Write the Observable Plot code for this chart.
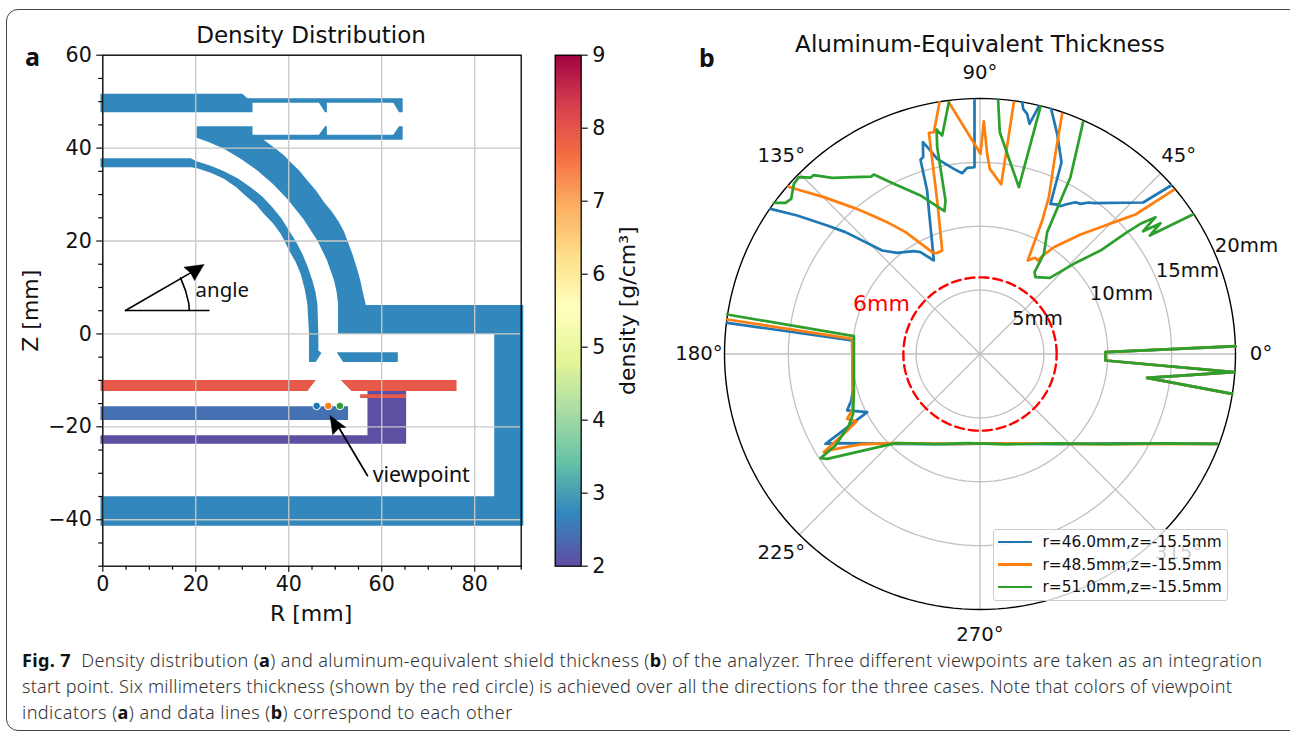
<!DOCTYPE html>
<html><head><meta charset="utf-8">
<script src="https://cdn.jsdelivr.net/npm/d3@7"></script>
<script src="https://cdn.jsdelivr.net/npm/@observablehq/plot@0.6"></script>
<style>
html,body{margin:0;padding:0;background:#fff;width:1290px;height:731px;overflow:hidden}
#page{position:relative;width:1290px;height:731px;overflow:hidden}
#card{position:absolute;left:6px;top:9px;width:1296px;height:722px;border:1px solid #444;border-radius:12px;box-sizing:border-box}
.cap{position:absolute;left:22px;white-space:nowrap;font-family:"Noto Sans";font-weight:300;font-size:18.1px;color:#333;line-height:20px}
.cap b{color:#111;font-weight:700}
.letter{position:absolute;font-family:"Noto Sans";font-weight:700;font-size:25px;color:#111;line-height:28px}
#legend{position:absolute;left:993px;top:529px;width:235px;height:72px;box-sizing:border-box;background:rgba(255,255,255,.8);border:1.3px solid #ccc;border-radius:3px;font-family:"DejaVu Sans";font-size:15.4px;color:#111}
#legend div{position:absolute;left:48.5px;white-space:nowrap;line-height:18px}
#legend i{position:absolute;left:4px;width:34px;height:2.6px}
</style></head><body><div id="page"><div id="card"></div></div>
<script>
// density colour map stops (g/cm3)
const densityStops = [2,2.7,3.4,4.1,4.8,5.5,6.2,6.9,7.6,8.3,9];
const densityColors = ["#5e4fa2","#3288bd","#66c2a5","#abdda4","#e6f598","#ffffbf","#fee08b","#fdae61","#f46d43","#d53e4f","#9e0142"];

// geometry of the analyzer, [R mm, Z mm]
const topPipe = [[-0.5,51.7],[30,51.7],[31.1,50.75],[64.5,50.75],[64.5,47.74],[63.7,47.74],[62.5,49.75],[48.2,49.75],[48.2,47.74],[47.8,47.74],[46.5,49.75],[32.2,49.75],[32.2,47.74],[-0.5,47.74]];
const outerShell = [[20.2,44.7],[32.2,44.7],[32.2,42.86],[46.5,42.86],[47.8,44.7],[48.2,44.7],[48.2,42.86],[62.5,42.86],[63.7,44.7],[64.5,44.7],[64.5,41.8],[34.6,41.8],[37.2,39.84],[38.9,38.5],[40.4,36.97],[42.3,35.1],[44,33.02],[45.9,30.8],[47.6,28.36],[49.3,26.3],[50.8,24.05],[51.85,22.1],[52.6,20.1],[53.8,16.9],[54.8,13.64],[55.4,11.5],[55.85,9.33],[56.57,6.25],[90.45,6.25],[90.45,-41.28],[-0.5,-41.28],[-0.5,-34.96],[84.2,-34.96],[84.2,0],[50.6,0],[50.6,6.46],[50.3,9],[49.75,11.49],[48.2,15.9],[46.16,20.1],[43.1,24.8],[39.7,29.07],[36.6,32.3],[33.24,35.18],[29.8,37.6],[26.06,39.84],[23,41.2],[20.17,42.21]];
const innerShell = [[-0.5,37.83],[18.88,37.83],[20.17,37.19],[23.2,36.2],[26.06,35.03],[29,33.5],[31.8,31.59],[34.3,29.6],[36.47,27.28],[38.4,24.9],[40.06,22.25],[41.6,19.8],[42.93,17.23],[44.1,14.4],[45.08,11.49],[45.75,9],[46.16,6.46],[46.37,0],[46.37,-3.59],[47.02,-4.09],[45.8,-6.03],[44.36,-6.03],[44.36,0],[44,6.46],[43.4,9.8],[42.57,12.92],[41.5,15.5],[40.06,17.95],[39.2,19.8],[38.26,21.54],[36.6,23.8],[34.67,25.84],[33,27.8],[31.08,29.43],[28.7,31.6],[26.06,33.38],[23.2,34.7],[20.32,35.68],[18.88,35.89],[-0.5,35.89]];
const sideRing = [[50.32,-3.95],[63.46,-3.95],[63.46,-6.03],[51.69,-6.03]];
const steelLeft = [[-0.5,-9.91],[45.8,-9.91],[44,-12.28],[-0.5,-12.28]];
const steelRight = [[51.18,-9.91],[76.1,-9.91],[76.1,-12.28],[53.48,-12.28]];
const lowPlate = [[-0.5,-21.82],[56.93,-21.82],[56.93,-12.28],[65.25,-12.28],[65.25,-23.62],[-0.5,-23.62]];
const steelStrip = [[55.35,-13],[65.25,-13],[65.25,-13.78],[55.35,-13.78]];
const midPlate = [[-0.5,-15.58],[52.76,-15.58],[52.76,-18.52],[-0.5,-18.52]];
const parts = [
  {pts:topPipe,density:2.7},{pts:outerShell,density:2.7},{pts:innerShell,density:2.7},{pts:sideRing,density:2.7},
  {pts:lowPlate,density:2.0},{pts:steelLeft,density:7.9},{pts:steelRight,density:7.9},{pts:steelStrip,density:7.9},{pts:midPlate,density:2.4}
];

// viewpoints
const viewR = [46,48.5,51];
const viewZ = [-15.5,-15.5,-15.5];
const viewColors = ["#1f77b4","#ff7f0e","#2ca02c"];
const viewNames = ["r=46.0mm,z=-15.5mm","r=48.5mm,z=-15.5mm","r=51.0mm,z=-15.5mm"];

// aluminum-equivalent thickness, components along 0 deg and 90 deg (mm); null = beyond 20 mm
const blueX = [14.96,12.77,8.91,8.52,7.87,7.47,6.69,6.30,6.09,5.52,6.38,6.04,5.57,null,4.60,3.87,3.69,3.38,3.30,null,-0.43,-0.43,-1.00,-1.40,-2.05,-3.35,-4.00,-4.47,-4.45,-4.66,-4.14,-4.00,-3.61,-4.66,-5.18,-6.48,-7.66,-10.53,-11.96,-14.31,-16.40,null,-19.79,-10.01,-9.95,-10.08,-10.40,-8.83,-12.09,-11.18,-6.74,-2.5,1.5,6,11,18.56,null,19.74,13.08,19.87,9.82,9.82,20.0];
const blueY = [13.19,11.86,11.81,11.86,11.75,11.88,11.70,11.57,11.70,11.75,15.01,17.23,19.19,null,19.37,18.02,18.80,19.19,19.71,null,19.89,14.62,14.57,14.15,14.49,15.28,16.06,16.58,15.41,15.20,12.80,11.23,7.32,7.97,8.05,7.92,8.10,9.54,10.06,10.84,11.36,null,2.44,1.06,-2.86,-3.64,-4.42,-4.55,-7.03,-6.98,-7.03,-7.06,-7.0,-7.05,-7.0,-7.03,null,-3.12,-1.87,-1.42,-0.51,0.14,0.59];
const orangeX = [15.17,12.17,11.0,9.43,7.87,6.56,5.78,4.87,4.53,4.34,4.08,3.74,4.87,5.39,5.86,6.43,null,2.65,1.66,0.77,0.56,0.30,0.04,-2.44,null,-3.17,-3.61,-4.00,-3.35,-2.96,-3.40,-3.74,-5.83,-7.27,-8.83,-9.87,-12.22,-14.70,-15.01,null,-19.79,-10.01,-9.95,-10.01,-10.40,-9.67,-10.53,-12.22,-11.70,-9.35,-6.74,-2,3,9,18.56,null,19.74,13.08,19.87,9.82,9.82,20.0];
const orangeY = [12.85,10.92,10.5,9.93,9.35,8.73,8.36,7.66,7.32,7.53,7.45,7.32,10.45,12.28,15.41,18.80,null,19.71,13.27,14.49,15.67,18.22,15.67,19.71,null,19.71,17.36,17.31,12.01,8.10,7.89,7.97,9.54,10.32,11.02,11.44,12.28,13.0,13.11,null,2.70,1.19,-3.64,-4.42,-5.07,-5.28,-6.12,-7.68,-7.50,-7.08,-6.98,-7.04,-7.0,-7.05,-7.03,null,-3.12,-1.87,-1.42,-0.51,0.14,0.62];
const greenX = [16.66,13.29,14.13,12.77,13.74,12.56,11.52,9.43,7.34,5.47,4.34,4.27,5.0,5.26,7.08,8.07,null,4.74,3.04,1.55,1.42,null,-2.44,-2.96,-3.40,-3.35,-2.70,-2.78,-4.66,-7.01,-8.31,-8.52,-9.87,-11.57,-13.01,-13.27,-14.18,-14.57,-14.78,-15.22,-16.14,null,-19.79,-9.87,-9.87,-9.93,-10.27,-11.31,-12.48,-11.96,-6.61,-3.5,-1,2,6,10,14,18.56,null,19.74,13.08,19.87,9.82,9.82,20.0];
const greenY = [10.92,9.27,10.24,9.61,10.71,10.19,9.54,8.10,7.06,5.96,6.01,6.41,7.84,9.54,13.84,18.15,null,19.37,13.06,17.36,19.84,null,19.71,17.10,17.57,16.19,12.01,11.18,12.41,13.45,14.05,13.89,13.84,13.79,14.0,13.81,13.84,13.32,12.14,11.83,11.83,null,3.09,1.40,-2.86,-4.68,-5.60,-7.16,-8.15,-8.21,-6.98,-7.06,-6.98,-7.08,-7.0,-7.05,-7.0,-7.03,null,-3.12,-1.87,-1.42,-0.51,0.14,0.62];

// polar axis
const ringRadii = [5,10,15];
const spokeAngles = [0,45,90,135,180,225,270,315];
const angleLabels = ["0°","45°","90°","135°","180°","225°","270°","315°"];
const ringLabels = ["5mm","10mm","15mm","20mm"];
const ringLabelX = [4.5,11.08,16.24,20.86];
const ringLabelY = [2.78,4.74,6.54,8.49];
const labelRadius = 22;
const limitRadius = 6;
const outerRadius = 20;

const host = document.getElementById("page");
const font = "DejaVu Sans";
const colorScale = {type:"linear",domain:densityStops,range:densityColors};
const polar = (deg,r)=>({x:r*Math.cos(deg*Math.PI/180),y:r*Math.sin(deg*Math.PI/180)});
const circle = r=>d3.range(0,361,2).map(a=>polar(a,r));

// ---------- panel a
const partRows = parts.flatMap((p,i)=>[...p.pts,p.pts[0]].map(([R,Z])=>({R,Z,part:i,density:p.density})));
const head = (pts)=>Plot.line([...pts,pts[0]].map(([R,Z])=>({R,Z})),{x:"R",y:"Z",fill:"black",stroke:"black",strokeWidth:0.5});
const thin = (pts,w=1.6)=>Plot.line(pts.map(([R,Z])=>({R,Z})),{x:"R",y:"Z",stroke:"black",strokeWidth:w});
const panelA = Plot.plot({
  width:540,height:600,marginLeft:102.3,marginRight:19.3,marginTop:54.7,marginBottom:34.3,
  style:{position:"absolute",left:"0",top:"0",fontFamily:font,background:"transparent",overflow:"visible"},
  x:{domain:[0,90]},y:{domain:[-50,60]},color:colorScale,
  marks:[
    Plot.line(partRows,{x:"R",y:"Z",z:"part",fill:"density",strokeWidth:0}),
    Plot.gridX({ticks:[0,20,40,60,80],stroke:"#c8c8c8",strokeOpacity:1,strokeWidth:1.3}),
    Plot.gridY({ticks:[-40,-20,0,20,40,60],stroke:"#c8c8c8",strokeOpacity:1,strokeWidth:1.3}),
    Plot.frame({stroke:"black",strokeWidth:1.3,fill:"none"}),
    Plot.axisX({ticks:[0,20,40,60,80],tickSize:6,tickPadding:4,fontSize:20.6,label:null,strokeWidth:1.2,color:"#111"}),
    Plot.axisX({ticks:[5,10,15,25,30,35,45,50,55,65,70,75,85,90],tickSize:4,text:null,label:null,strokeWidth:1.2}),
    Plot.axisY({ticks:[-40,-20,0,20,40,60],tickSize:6,tickPadding:5,fontSize:20.6,label:null,strokeWidth:1.2,color:"#111"}),
    Plot.axisY({ticks:[-50,-45,-35,-30,-25,-15,-10,-5,5,10,15,25,30,35,45,50,55],tickSize:4,text:null,label:null,strokeWidth:1.2}),
    thin([[4.88,5.03],[22.83,5.03]]),
    thin([[4.88,5.03],[18.88,13.14]]),
    thin([[16.73,12.06],[17.8,9.33],[18.52,6.46],[18.59,5.03]]),
    head([[21.75,14.93],[17.44,14.36],[18.88,13.14],[19.74,11.49]]),
    thin([[56.93,-30.51],[50.83,-20.24]],1.8),
    head([[48.89,-17.59],[52.26,-20.1],[50.83,-20.24],[49.46,-21.68]]),
    Plot.dot(viewR.map((R,i)=>({R,Z:viewZ[i],c:viewColors[i]})),{x:"R",y:"Z",fill:"c",r:3.8,stroke:"white",strokeWidth:1}),
    Plot.text(["Density Distribution"],{x:[44.8],y:[64.2],text:d=>d,fontSize:23.1,fill:"#111"}),
    Plot.text(["R [mm]"],{x:[44.8],y:[-60.2],text:d=>d,fontSize:22,fill:"#111"}),
    Plot.text(["Z [mm]"],{x:[-15.5],y:[5],text:d=>d,fontSize:22,rotate:-90,fill:"#111"}),
    Plot.text(["angle"],{x:[25.7],y:[9.4],text:d=>d,fontSize:20.4,fontFamily:"Noto Sans",fill:"#111"}),
    Plot.text(["viewpoint"],{x:[68.5],y:[-30.3],text:d=>d,fontSize:21.3,fontFamily:"Noto Sans",fill:"#111"})
  ]
});
host.appendChild(panelA);

// ---------- colour bar
const barSteps = d3.range(2,9,0.05);
const colorBar = Plot.plot({
  width:120,height:560,marginLeft:14.7,marginRight:79.3,marginTop:14.7,marginBottom:34.3,
  style:{position:"absolute",left:"540px",top:"40px",fontFamily:font,background:"transparent",overflow:"visible"},
  x:{domain:[0,1],axis:null},y:{domain:[2,9]},color:colorScale,
  marks:[
    Plot.rectY(barSteps,{x1:0,x2:1,y1:d=>d,y2:d=>d+0.05,fill:d=>d,shapeRendering:"crispEdges"}),
    Plot.frame({stroke:"black",strokeWidth:1.3,fill:"none"}),
    Plot.axisY({anchor:"right",ticks:[2,3,4,5,6,7,8,9],tickFormat:"d",tickSize:6,tickPadding:5,fontSize:20.6,label:null,strokeWidth:1.2,color:"#111"}),
    Plot.text(["density [g/cm³]"],{x:[2.8],y:[5.5],text:d=>d,fontSize:22,rotate:-90,fill:"#111"})
  ]
});
host.appendChild(colorBar);

// ---------- panel b
const rows = (xs,ys)=>xs.map((x,i)=>({x,y:ys[i]}));
const panelB = Plot.plot({
  width:630,height:590,marginLeft:64,marginRight:55,marginTop:38,marginBottom:41,
  style:{position:"absolute",left:"660px",top:"60px",fontFamily:font,background:"transparent",overflow:"visible"},
  x:{domain:[-20,20],axis:null},y:{domain:[-20,20],axis:null},
  marks:[
    ...ringRadii.map(r=>Plot.line(circle(r),{x:"x",y:"y",stroke:"#c0c0c0",strokeWidth:1.3})),
    ...spokeAngles.map(a=>Plot.line([polar(a,0),polar(a,outerRadius)],{x:"x",y:"y",stroke:"#c0c0c0",strokeWidth:1.3})),
    Plot.line(circle(outerRadius),{x:"x",y:"y",stroke:"black",strokeWidth:1.4}),
    Plot.text(angleLabels,{x:(d,i)=>polar(spokeAngles[i],labelRadius).x,y:(d,i)=>polar(spokeAngles[i],labelRadius).y,text:d=>d,fontSize:19.7,fill:"#111"}),
    Plot.text(ringLabels,{x:(d,i)=>ringLabelX[i],y:(d,i)=>ringLabelY[i],text:d=>d,fontSize:19.7,fill:"#111"}),
    Plot.line(rows(blueX,blueY),{x:"x",y:"y",stroke:viewColors[0],strokeWidth:2.7}),
    Plot.line(rows(orangeX,orangeY),{x:"x",y:"y",stroke:viewColors[1],strokeWidth:2.7}),
    Plot.line(rows(greenX,greenY),{x:"x",y:"y",stroke:viewColors[2],strokeWidth:2.7}),
    Plot.line(circle(limitRadius),{x:"x",y:"y",stroke:"#f00",strokeWidth:2.4,strokeDasharray:"9,5"}),
    Plot.text(["6mm"],{x:[-7.71],y:[3.95],text:d=>d,fontSize:22,fill:"#f00"}),
    Plot.text(["Aluminum-Equivalent Thickness"],{x:[0],y:[24.2],text:d=>d,fontSize:23.1,fill:"#111"})
  ]
});
host.appendChild(panelB);

// ---------- legend, letters, caption
const legend = document.createElement("div");
legend.id = "legend";
viewNames.forEach((n,i)=>{
  const s=document.createElement("i");s.style.top=(10.5+i*22.7)+"px";s.style.background=viewColors[i];legend.appendChild(s);
  const t=document.createElement("div");t.textContent=n;t.style.top=(3+i*22.7)+"px";legend.appendChild(t);
});
host.appendChild(legend);
[["a",25,42],["b",699,43]].forEach(([t,l,tp])=>{
  const d=document.createElement("div");d.className="letter";d.textContent=t;d.style.left=l+"px";d.style.top=tp+"px";host.appendChild(d);
});
const captionLines = [
  "<b>Fig. 7</b>&nbsp; Density distribution (<b>a</b>) and aluminum-equivalent shield thickness (<b>b</b>) of the analyzer. Three different viewpoints are taken as an integration",
  "start point. Six millimeters thickness (shown by the red circle) is achieved over all the directions for the three cases. Note that colors of viewpoint",
  "indicators (<b>a</b>) and data lines (<b>b</b>) correspond to each other"
];
const captionSpacing = [0.36,0.23,0.42];
captionLines.forEach((h,i)=>{
  const d=document.createElement("div");d.className="cap";d.innerHTML=h;d.style.top=(650+i*26)+"px";d.style.letterSpacing=captionSpacing[i]+"px";host.appendChild(d);
});
</script></body></html>
